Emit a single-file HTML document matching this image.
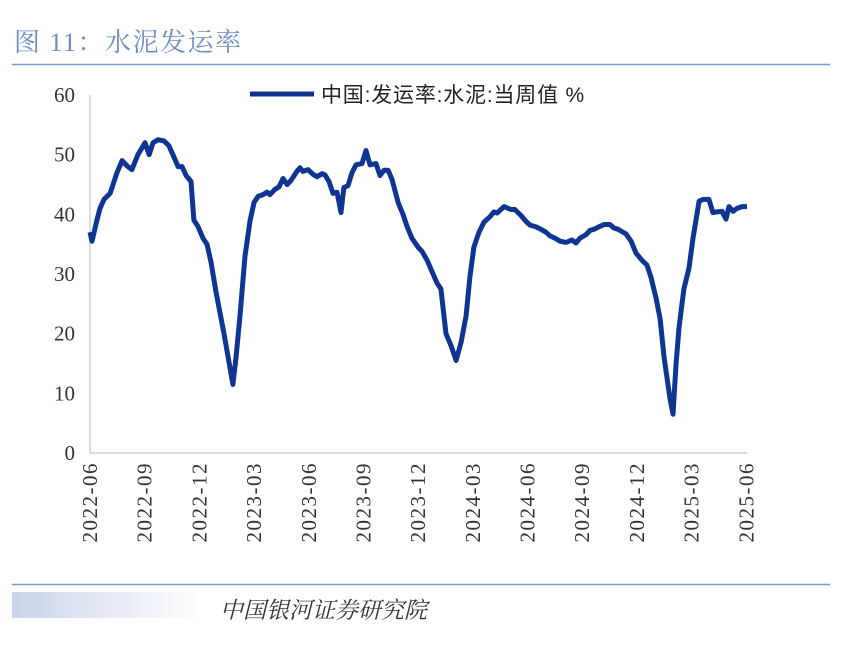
<!DOCTYPE html>
<html><head><meta charset="utf-8"><style>
body{margin:0;background:#fff;width:847px;height:644px;overflow:hidden;font-family:"Liberation Serif","Noto Serif CJK SC",serif}
</style></head><body>
<svg width="847" height="644" xmlns="http://www.w3.org/2000/svg" id="chart">
<text x="14" y="51" font-size="26" letter-spacing="1.5" fill="#6d8cc6" font-family="'Liberation Serif','Noto Serif CJK SC',serif">图 11：水泥发运率</text>
<line x1="12" y1="64.5" x2="830" y2="64.5" stroke="#7d98cc" stroke-width="1.5"/>
<line x1="12" y1="584.5" x2="830" y2="584.5" stroke="#7d98cc" stroke-width="1.5"/>
<defs><linearGradient id="fg" x1="0" x2="1"><stop offset="0" stop-color="#c9d3ea"/><stop offset="1" stop-color="#ffffff"/></linearGradient></defs>
<rect x="12" y="592" width="190" height="26" fill="url(#fg)"/>
<text x="220" y="618" font-size="23" font-style="italic" fill="#333" font-family="'Liberation Serif','Noto Serif CJK SC',serif">中国银河证券研究院</text>
<g id="axes"></g>
<line x1="250" y1="94" x2="314" y2="94" stroke="#0e3592" stroke-width="5"/>
<text x="321" y="102" font-size="21" letter-spacing="0.8" fill="#222" font-family="'Liberation Sans','Noto Sans CJK SC',sans-serif">中国:发运率:水泥:当周值 %</text>
</svg>
<script>
const monthOffsets=[0,.11,.38,.55,.77,1.10,1.48,1.76,2.08,2.30,2.63,3.02,3.24,3.46,3.73,4.06,4.33,4.55,4.83,5.05,5.27,5.54,5.70,5.92,6.20,6.42,6.64,6.91,7.35,7.84,8.01,8.23,8.50,8.78,9.00,9.22,9.49,9.71,9.87,10.15,10.37,10.59,10.81,11.03,11.35,11.52,11.68,11.96,12.23,12.45,12.73,12.89,13.11,13.33,13.55,13.77,13.93,14.15,14.37,14.59,14.92,15.14,15.36,15.69,15.91,16.13,16.35,16.57,16.90,17.17,17.39,17.66,17.99,18.21,18.49,18.82,19.03,19.25,19.53,19.80,20.08,20.35,20.63,20.84,21.06,21.34,21.61,21.94,22.16,22.33,22.71,23.09,23.31,23.64,23.92,24.14,24.47,24.79,25.01,25.23,25.51,25.78,26.11,26.44,26.66,26.88,27.21,27.43,27.65,27.98,28.20,28.52,28.74,28.96,29.13,29.40,29.68,29.95,30.28,30.55,30.77,31.05,31.27,31.49,31.82,31.98,32.15,32.31,32.58,32.86,33.08,33.41,33.63,33.95,34.17,34.39,34.67,34.89,35.05,35.27,35.49,35.77,36.04];
const values=[37,35.5,39,41,42.5,43.5,47,49,48,47.5,50,52,50,52,52.5,52.3,51.5,50,48,48,46.5,45.5,39,38,36,35,32,27,20,11.5,16,23,33,39,42,43,43.3,43.7,43.3,44.2,44.6,46,45,45.7,47.2,47.8,47.2,47.5,46.7,46.3,46.8,46.6,45.5,43.5,43.7,40.3,44.5,44.8,47,48.3,48.5,50.7,48.3,48.5,46.5,47.4,47.4,45.8,42,40,38,36,34.5,33.8,32.3,30,28.5,27.5,20,18,15.5,18.5,23,29.5,34.5,37,38.7,39.6,40.4,40.2,41.3,40.8,40.8,39.8,38.8,38.2,37.9,37.4,37,36.4,36,35.5,35.3,35.7,35.2,36,36.6,37.3,37.5,38,38.3,38.3,37.7,37.5,37.2,36.7,35.5,33.5,32.3,31.5,29.5,26,22.5,16,9,6.5,15,21,27.5,31,36,42.2,42.5,42.5,40.3,40.4,40.5,39.2,41.3,40.5,41,41.3,41.3];
const xTickLabels=["2022-06","2022-09","2022-12","2023-03","2023-06","2023-09","2023-12","2024-03","2024-06","2024-09","2024-12","2025-03","2025-06"];
const yTickValues=[0,10,20,30,40,50,60];
const X0=90,MONTH_PX=18.23,Y0=453,UNIT_PX=5.967;
const xs=m=>X0+m*MONTH_PX, ys=v=>Y0-v*UNIT_PX;
const NS="http://www.w3.org/2000/svg",svg=document.getElementById('chart'),g=document.getElementById('axes');
function mk(t,a){const e=document.createElementNS(NS,t);for(const k in a)e.setAttribute(k,a[k]);return e;}
let ax=mk('line',{x1:X0,y1:ys(60),x2:X0,y2:Y0,stroke:'#d0d0d0','stroke-width':1.5});


g.appendChild(ax);
let bx=mk('line',{x1:X0,y1:Y0,x2:xs(36.04),y2:Y0,stroke:'#d0d0d0','stroke-width':1.5});


g.appendChild(bx);
yTickValues.forEach(v=>{const t=mk('text',{x:75,y:ys(v)+7,'font-size':21,'text-anchor':'end',fill:'#333','font-family':"'Liberation Serif',serif"});t.textContent=v;


g.appendChild(t);});
xTickLabels.forEach((l,i)=>{const x=xs(i*3);const t=mk('text',{x:0,y:0,'font-size':21,'letter-spacing':'1.5','text-anchor':'end',fill:'#333','font-family':"'Liberation Serif',serif",transform:`translate(${x+7},${Y0+9}) rotate(-90)`});t.textContent=l;


g.appendChild(t);});
const d=monthOffsets.map((m,i)=>(i?'L':'M')+xs(m).toFixed(1)+','+ys(values[i]).toFixed(1)).join('');
const p=mk('path',{d:d,fill:'none',stroke:'#0e3592','stroke-width':5,'stroke-linejoin':'round'});


svg.appendChild(p);
</script>
</body></html>
